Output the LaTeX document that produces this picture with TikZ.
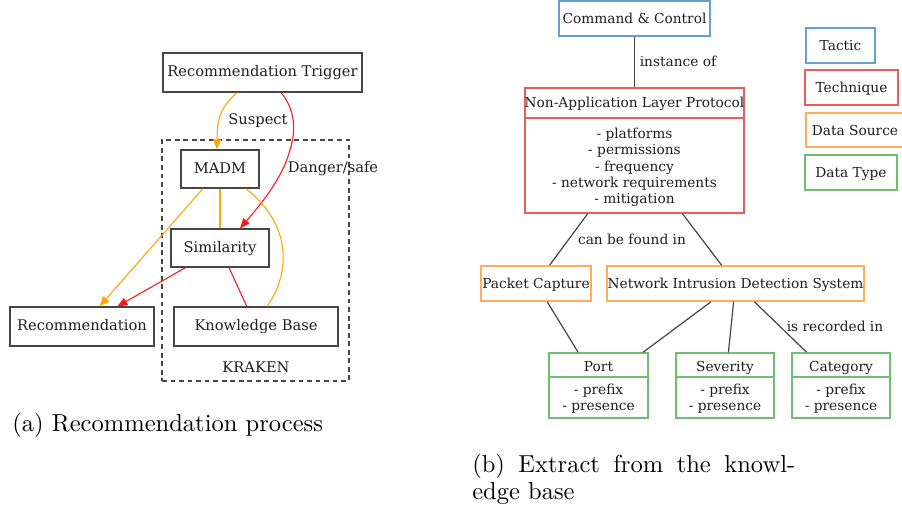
\documentclass[tikz,border=0pt]{standalone}
\usepackage{fontspec}
\newfontfamily\dv{DejaVu Serif}
\newfontfamily\lmten{lmroman10-regular}[Extension=.otf]
\usetikzlibrary{arrows.meta,calc}
\definecolor{tacticc}{RGB}{100,160,212}
\definecolor{techc}{RGB}{232,92,92}
\definecolor{srcc}{RGB}{255,172,95}
\definecolor{typec}{RGB}{112,190,112}
\definecolor{boxgray}{RGB}{70,70,70}
\definecolor{txt}{RGB}{30,30,30}
\definecolor{edgec}{RGB}{68,68,68}
\definecolor{orangec}{RGB}{255,165,0}
\definecolor{redc}{RGB}{255,20,20}
\begin{document}
\begin{tikzpicture}[x=0.75pt,y=-0.75pt,
  lfont/.style={font=\dv\fontsize{11}{13}\selectfont,text height=8.5pt,text depth=2pt},
  rfont/.style={font=\dv\fontsize{10.3}{12.2}\selectfont,text height=7.5pt,text depth=2.4pt},
  rboxfont/.style={font=\dv\fontsize{10.3}{12.2}\selectfont,text height=9pt,text depth=1.5pt},
  rmulti/.style={font=\dv\fontsize{10.3}{12.2}\selectfont},
  gbox/.style={draw=boxgray,line width=0.9pt,inner sep=0pt,text=txt,lfont},
  kbox/.style={line width=1.1pt,inner sep=0pt,text=txt,rboxfont},
  lbl/.style={inner sep=0pt,text=txt,lfont},
  rlbl/.style={inner sep=0pt,text=txt,rfont},
  rbody/.style={inner sep=0pt,text=txt,rmulti,align=center},
  oedge/.style={draw=orangec,line width=0.8pt},
  redge/.style={draw=redc,line width=0.8pt},
  tipped/.style={-{Triangle[length=7.5pt,width=6pt]}},
  kedge/.style={draw=edgec,line width=0.9pt},
  captxt/.style={inner sep=0pt,anchor=base west,font=\lmten\fontsize{18.4}{22}\selectfont}
]
\useasboundingbox (0,0) rectangle (902,504);

% ---------- left: recommendation process ----------
\node[draw=boxgray,dashed,dash pattern=on 3.6pt off 2.8pt,line width=0.8pt,
      minimum width=140.25pt,minimum height=180.75pt,inner sep=0pt] (kraken) at (255.5,260.5) {};
\node[lbl] (krakenlbl) at (256,368.5) {KRAKEN};

\node[gbox,minimum width=149.25pt,minimum height=29.25pt] (trig) at (262.5,72.5) {Recommendation Trigger};
\node[gbox,minimum width=58.5pt,minimum height=28.5pt] (madm) at (220,169) {MADM};
\node[gbox,minimum width=73.5pt,minimum height=28.5pt] (sim) at (220,248) {Similarity};
\node[gbox,minimum width=108pt,minimum height=29.25pt] (rec) at (82,326.5) {Recommendation};
\node[gbox,minimum width=123pt,minimum height=29.25pt] (kb) at (256,326.5) {Knowledge Base};

\node[lbl] (suspect) at (258,120.5) {Suspect};
\node[lbl] (danger) at (333,168.5) {Danger/safe};

\coordinate (rbend) at (290,150);
\draw[oedge,tipped] ($(trig.south)+(-25.5,0)$) .. controls ($(trig.south)+(-40.5,13)$) and ($(madm.north)+(-3,-32)$) .. ($(madm.north)+(-3,0)$);
\draw[redge,tipped] ($(trig.south)+(18.5,0)$) .. controls ($(trig.south)+(29.5,13)$) and ($(rbend)+(8,-25)$) .. (rbend)
   .. controls ($(rbend)+(-8,30)$) and ($(sim.north)+(38,-21)$) .. ($(sim.north)+(20,0)$);
\draw[oedge,tipped] (madm) -- (rec);
\draw[oedge] (madm) -- (sim);
\draw[oedge] ($(madm.south)+(26,0)$) .. controls ($(madm.south)+(73,37)$) and ($(kb.north)+(34,-32)$) .. ($(kb.north)+(11,0)$);
\draw[redge,tipped] (sim) -- (rec);
\draw[redge] (sim) -- (kb);

\node[captxt] (capa) at (12,431) {(a) Recommendation process};

% ---------- right: knowledge base extract ----------
\node[kbox,draw=tacticc,minimum width=113.25pt,minimum height=26.25pt] (cc) at (634.5,18.5) {Command \& Control};
\node[kbox,draw=techc,minimum width=164.25pt,minimum height=93.75pt] (nal) at (634.5,150.5) {};
\draw[techc,line width=1.1pt] (nal.west |- 0,118) -- (nal.east |- 0,118);
\node[rlbl] (naltitle) at (634.5,104.5) {Non-Application Layer Protocol};
\node[rbody] (nalbody) at (634.5,167.5) {- platforms\\- permissions\\- frequency\\- network requirements\\- mitigation};
\node[rlbl] (inst) at (678,63) {instance of};
\draw[kedge] (cc) -- (nal);

% legend
\node[kbox,draw=tacticc,minimum width=51.75pt,minimum height=26.25pt] (lt) at (840.5,45.5) {Tactic};
\node[kbox,draw=techc,minimum width=69.75pt,minimum height=26.25pt] (lq) at (851.5,87.5) {Technique};
\node[kbox,draw=srcc,minimum width=73.5pt,minimum height=25.5pt] (ls) at (855,130) {Data Source};
\node[kbox,draw=typec,minimum width=69pt,minimum height=26.25pt] (ly) at (851,172.5) {Data Type};

\node[kbox,draw=srcc,minimum width=82.5pt,minimum height=26.25pt] (pc) at (536,283.5) {Packet Capture};
\node[kbox,draw=srcc,minimum width=192.75pt,minimum height=26.25pt] (nids) at (735.5,283.5) {Network Intrusion Detection System};
\node[rlbl] (found) at (632,241) {can be found in};
\draw[kedge] (nal) -- (pc);
\draw[kedge] (nal) -- (nids);

\foreach \nm/\cx/\ttl/\w in {port/598.5/Port/74.25, sev/725/Severity/73.5, cat/841/Category/73.5}{
  \node[kbox,draw=typec,minimum width=\w pt,minimum height=48.75pt] (\nm) at (\cx,385.5) {};
  \draw[typec,line width=1.1pt] (\nm.west |- 0,377) -- (\nm.east |- 0,377);
  \node[rlbl] (\nm title) at (\cx,368) {\ttl};
  \node[rbody] (\nm body) at (\cx,398.5) {- prefix\\- presence};
}
\node[rlbl] (rec2) at (835,328) {is recorded in};
\draw[kedge] (pc) -- (port);
\draw[kedge] (nids) -- (port);
\draw[kedge] (nids) -- (sev);
\draw[kedge] (nids) -- (cat);

\node[captxt] (capb1) at (472,472) {\hbox to 242.25pt{(b)\hfill Extract\hfill from\hfill the\hfill knowl-}};
\node[captxt] (capb2) at (472,499) {edge base};
\end{tikzpicture}
\end{document}
